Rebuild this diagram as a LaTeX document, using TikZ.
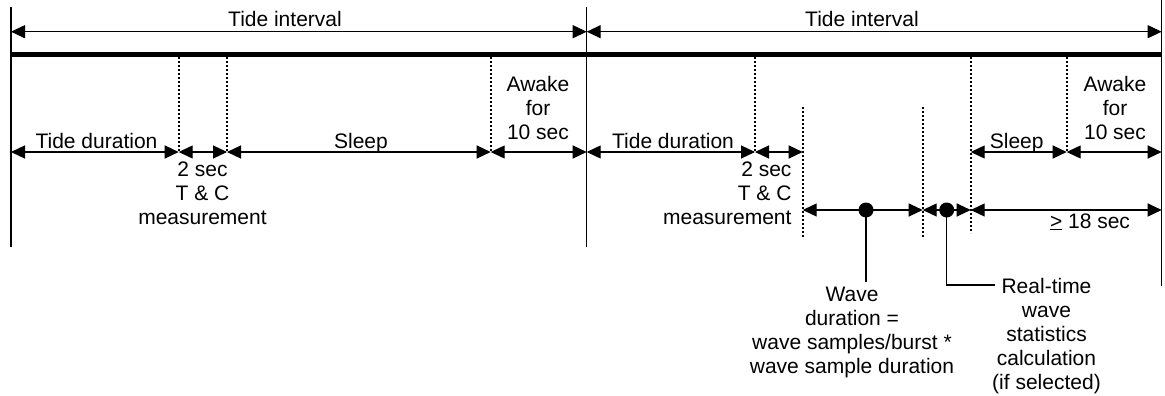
\documentclass[tikz,border=0pt]{standalone}
\usepackage{fontspec}
\setmainfont{Liberation Sans}
\usetikzlibrary{arrows.meta}
\begin{document}
\begin{tikzpicture}[x=1pt,y=-1pt,
  every node/.style={font=\fontsize{21}{24}\selectfont, inner sep=0pt},
  tip/.style={Triangle[length=14pt,width=13pt]},
  dim/.style={{Triangle[length=14pt,width=13pt]}-{Triangle[length=14pt,width=13pt]}, line width=1.2pt},
  tick/.style={line width=1.3pt},
  bar/.style={line width=5.5pt},
  dots/.style={line width=1.8pt, dash pattern=on 1.8pt off 2.2pt},
  lead/.style={line width=1.3pt},
  lbl/.style={anchor=base, align=center},
  ml/.style={anchor=north, align=center},
  blob/.style={circle, fill=black, minimum size=15pt, inner sep=0pt}]
\useasboundingbox (0,0) rectangle (1165,396);

% main vertical lines
\coordinate (vLt) at (11,7);      \coordinate (vLb) at (11,247);
\coordinate (vMt) at (586.7,7);   \coordinate (vMb) at (586.7,247);
\coordinate (vRt) at (1161.7,0);  \coordinate (vRb) at (1161.7,286);
\draw[tick] (vLt) -- (vLb);
\draw[tick] (vMt) -- (vMb);
\draw[tick] (vRt) -- (vRb);

% top tide interval arrows
\coordinate (tL) at (11,31.7);
\coordinate (tM) at (586.7,31.7);
\coordinate (tR) at (1161.7,31.7);
\draw[dim] (tL) -- (tM);
\draw[dim] (tM) -- (tR);
\node[lbl] (ti1) at (285,27) {Tide interval};
\node[lbl] (ti2) at (862,27) {Tide interval};

% thick bar
\coordinate (bL) at (11,54.5);
\coordinate (bR) at (1161.7,54.5);
\draw[bar] (bL) -- (bR);

% dotted separators
\coordinate (d1t) at (178.7,57);  \coordinate (d1b) at (178.7,152);
\coordinate (d2t) at (227,57);    \coordinate (d2b) at (227,152);
\coordinate (d3t) at (490.7,57);  \coordinate (d3b) at (490.7,152);
\coordinate (d4t) at (755,57);    \coordinate (d4b) at (755,152);
\coordinate (d5t) at (802.7,107); \coordinate (d5b) at (802.7,237);
\coordinate (d6t) at (922.7,107); \coordinate (d6b) at (922.7,237);
\coordinate (d7t) at (970.7,57);  \coordinate (d7b) at (970.7,233);
\coordinate (d8t) at (1066.7,57); \coordinate (d8b) at (1066.7,152);
\foreach \i in {1,...,8} {\draw[dots] (d\i t) -- (d\i b);}

% middle row arrows
\coordinate (m0) at (11,152);
\coordinate (m1) at (178.7,152);
\coordinate (m2) at (227,152);
\coordinate (m3) at (490.7,152);
\coordinate (m4) at (586.7,152);
\coordinate (m5) at (755,152);
\coordinate (m6) at (802.7,152);
\coordinate (m7) at (970.7,152);
\coordinate (m8) at (1066.7,152);
\coordinate (m9) at (1161.7,152);
\draw[dim] (m0) -- (m1);
\draw[dim] (m1) -- (m2);
\draw[dim] (m2) -- (m3);
\draw[dim] (m3) -- (m4);
\draw[dim] (m4) -- (m5);
\draw[dim] (m5) -- (m6);
\draw[dim] (m7) -- (m8);
\draw[dim] (m8) -- (m9);

% middle row labels
\node[lbl] (td1) at (96.5,148) {Tide duration};
\node[lbl] (sl1) at (361,148) {Sleep};
\node[lbl] (td2) at (673,148) {Tide duration};
\node[lbl] (sl2) at (1016.7,148) {Sleep};
\node[ml] (aw1) at (538,76) {Awake\\for\\10 sec};
\node[ml] (aw2) at (1115,76) {Awake\\for\\10 sec};
\node[ml] (tc1) at (202.5,162) {2 sec\\T \& C\\measurement};
\node[anchor=north east, align=right] (tc2) at (791.7,162) {2 sec\\T \& C\\measurement};

% lower row arrows
\coordinate (w0) at (802.7,210);
\coordinate (w1) at (922.7,210);
\coordinate (w2) at (970.7,210);
\coordinate (w3) at (1161.7,210);
\draw[dim] (w0) -- (w1);
\draw[dim] (w1) -- (w2);
\draw[dim] (w2) -- (w3);
\node[lbl] (ge) at (1090,228) {\underline{>} 18 sec};

% dots and leaders
\node[blob] (wd) at (866,210) {};
\node[blob] (rt) at (946.7,210) {};
\coordinate (wdEnd) at (866,282);
\coordinate (rtBend) at (946.7,285);
\coordinate (rtEnd) at (995,285);
\draw[lead] (wd.center) -- (wdEnd);
\draw[lead] (rt.center) -- (rtBend) -- (rtEnd);
\node[ml] (wtxt) at (852,287) {Wave\\duration =\\wave samples/burst *\\wave sample duration};
\node[ml] (rtxt) at (1046.5,278) {Real-time\\wave\\statistics\\calculation\\(if selected)};
\end{tikzpicture}
\end{document}
